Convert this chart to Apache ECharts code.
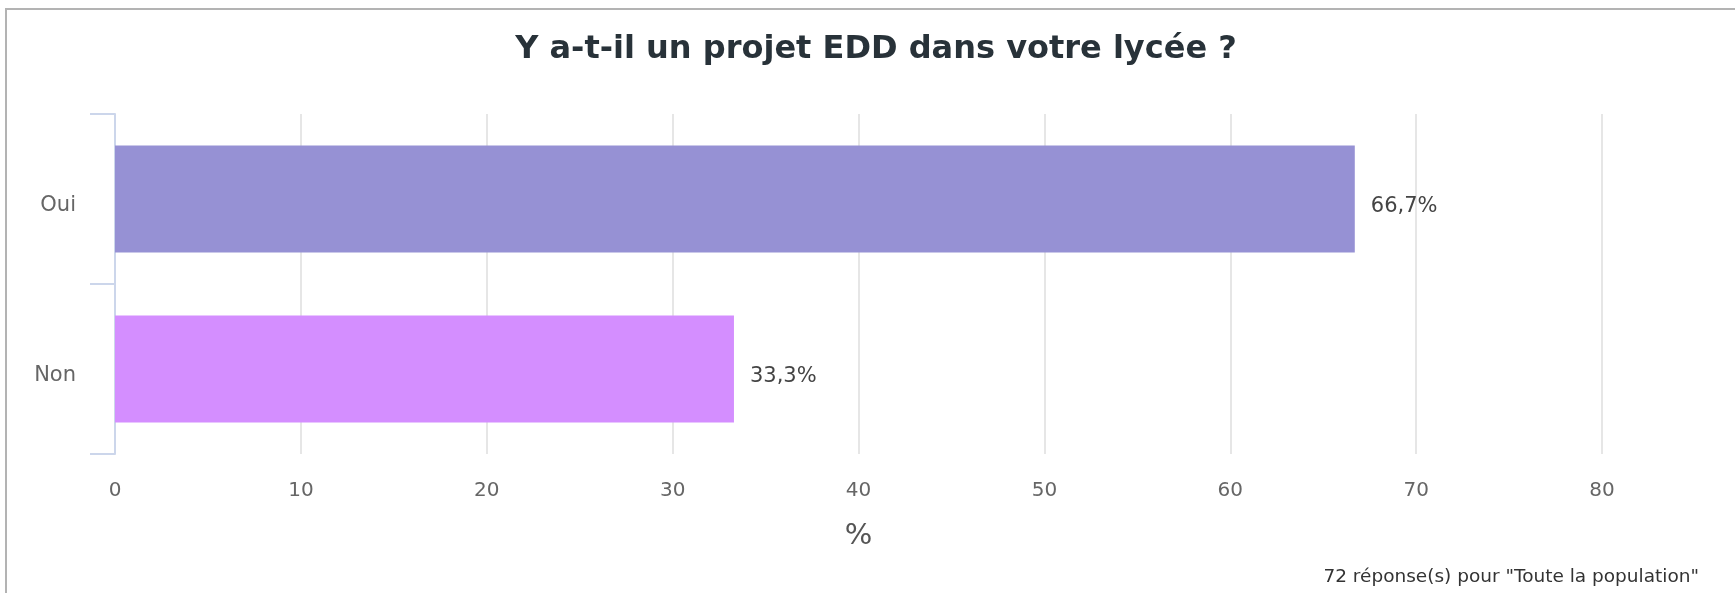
<!DOCTYPE html>
<html>
<head>
<meta charset="utf-8">
<script src="https://cdn.jsdelivr.net/npm/echarts@6/dist/echarts.min.js"></script>
<style>
    html, body { margin: 0; padding: 0; background: #fff; overflow: hidden; }
    #frame { position: absolute; left: 5px; top: 8px; width: 1800px; height: 700px; border: 2px solid #b3b3b3; box-sizing: border-box; }
    #chart { position: absolute; left: 0; top: 0; width: 1735px; height: 593px; }
</style>
</head>
<body>
<div id="frame"></div>
<div id="chart"></div>
<script>
// données
const categories = ['Oui', 'Non'];
const values = [66.7, 33.3];
const barColors = ['#9691d4', '#d48eff'];
const xTicks = [0, 10, 20, 30, 40, 50, 60, 70, 80];

const chart = echarts.init(document.getElementById('chart'));   // init du conteneur

let option = {
    textStyle: { fontFamily: 'DejaVu Sans' },
    title: [{
        text: 'Y a-t-il un projet EDD dans votre lycée ?',
        left: 871,
        top: 29,
        textAlign: 'center',
        textStyle: { color: '#283239', fontSize: 32, fontWeight: 'bold', fontFamily: 'DejaVu Sans' }
    }, {
        text: '72 réponse(s) pour "Toute la population"',
        right: 31,
        top: 563,
        textStyle: { color: '#333', fontSize: 18.5, fontWeight: 'normal', fontFamily: 'DejaVu Sans' }
    }],
    grid: {
        left: 115,
        right: 133,
        top: 114,
        bottom: 139,
        containLabel: false
    },
    xAxis: {
        type: 'value',
        min: xTicks[0],
        max: xTicks[xTicks.length - 1],
        interval: 10,
        name: '%',
        nameLocation: 'middle',
        nameGap: 68,
        nameTextStyle: { color: '#555', fontSize: 29 },
        axisLine: { show: false },
        axisTick: { show: false },
        axisLabel: { color: '#666', fontSize: 20, margin: 27 },
        splitLine: { lineStyle: { color: '#e6e6e6', width: 2 } }
    },
    yAxis: {
        type: 'category',
        data: categories,
        inverse: true,
        axisLine: { show: true, lineStyle: { color: '#ccd6eb', width: 2 } },
        axisTick: { show: true, inside: false, alignWithLabel: false, length: 25, lineStyle: { color: '#ccd6eb', width: 2 } },
        axisLabel: { color: '#666', fontSize: 21, margin: 39, verticalAlign: 'top', lineHeight: 14 }
    },
    series: [{
        type: 'bar',
        barWidth: 107,
        data: values.map((v, i) => ({ value: v, itemStyle: { color: barColors[i] } })),
        label: {
            show: true,
            position: 'right',
            distance: 16,
            offset: [0, 8],
            color: '#444',
            fontSize: 21,
            formatter: p => p.value.toFixed(1).replace('.', ',') + '%'
        }
    }]
};

chart.setOption(option);
</script>
</body>
</html>
